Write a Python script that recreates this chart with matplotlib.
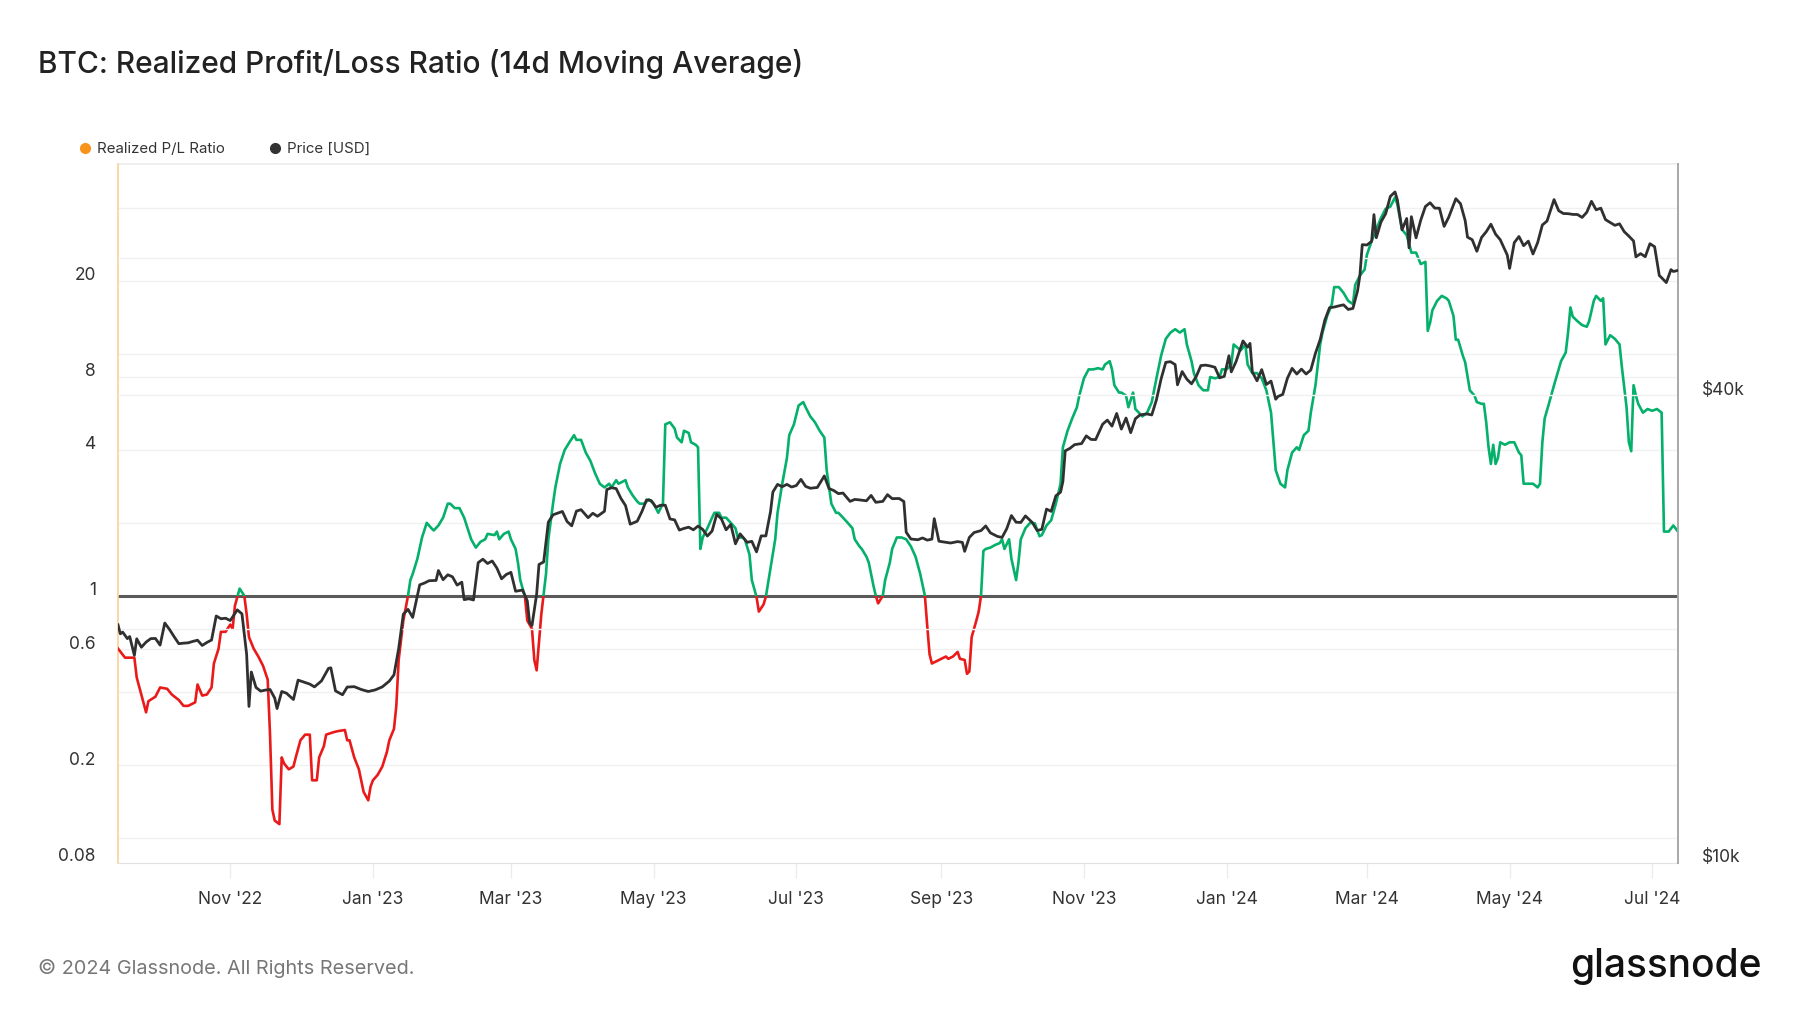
import matplotlib
matplotlib.use('Agg')
import matplotlib.pyplot as plt
import matplotlib.dates as mdates
import pandas as pd
from matplotlib.patches import Rectangle
from matplotlib.lines import Line2D
from matplotlib.transforms import blended_transform_factory, ScaledTranslation

plt.rcParams['font.family'] = ['Inter', 'DejaVu Sans']

# realized P/L ratio, 14d moving average
pl_dates = [
    '2022-09-14', '2022-09-17', '2022-09-21', '2022-09-22', '2022-09-24', '2022-09-26', '2022-09-27',
    '2022-09-30', '2022-10-02', '2022-10-05', '2022-10-07', '2022-10-10', '2022-10-12', '2022-10-14',
    '2022-10-17', '2022-10-18', '2022-10-20', '2022-10-22', '2022-10-24', '2022-10-25', '2022-10-27',
    '2022-10-28', '2022-10-30', '2022-11-01', '2022-11-02', '2022-11-03', '2022-11-05', '2022-11-07',
    '2022-11-08', '2022-11-09', '2022-11-11', '2022-11-13', '2022-11-15', '2022-11-17', '2022-11-18',
    '2022-11-19', '2022-11-20', '2022-11-22', '2022-11-23', '2022-11-24', '2022-11-26', '2022-11-28',
    '2022-11-29', '2022-12-01', '2022-12-03', '2022-12-05', '2022-12-06', '2022-12-08', '2022-12-09',
    '2022-12-11', '2022-12-12', '2022-12-15', '2022-12-17', '2022-12-20', '2022-12-21', '2022-12-22',
    '2022-12-24', '2022-12-26', '2022-12-28', '2022-12-30', '2022-12-31', '2023-01-01', '2023-01-03',
    '2023-01-05', '2023-01-07', '2023-01-08', '2023-01-10', '2023-01-11', '2023-01-12', '2023-01-14',
    '2023-01-16', '2023-01-17', '2023-01-18', '2023-01-20', '2023-01-22', '2023-01-24', '2023-01-26',
    '2023-01-27', '2023-01-29', '2023-01-31', '2023-02-02', '2023-02-03', '2023-02-05', '2023-02-07',
    '2023-02-09', '2023-02-12', '2023-02-14', '2023-02-16', '2023-02-18', '2023-02-19', '2023-02-22',
    '2023-02-23', '2023-02-24', '2023-02-26', '2023-02-28', '2023-03-01', '2023-03-03', '2023-03-04',
    '2023-03-05', '2023-03-07', '2023-03-08', '2023-03-10', '2023-03-11', '2023-03-12', '2023-03-13',
    '2023-03-14', '2023-03-16', '2023-03-17', '2023-03-19', '2023-03-20', '2023-03-22', '2023-03-24',
    '2023-03-26', '2023-03-28', '2023-03-29', '2023-03-31', '2023-04-02', '2023-04-04', '2023-04-06',
    '2023-04-08', '2023-04-10', '2023-04-12', '2023-04-13', '2023-04-15', '2023-04-16', '2023-04-19',
    '2023-04-20', '2023-04-22', '2023-04-24', '2023-04-25', '2023-04-27', '2023-04-29', '2023-05-01',
    '2023-05-03', '2023-05-04', '2023-05-05', '2023-05-06', '2023-05-08', '2023-05-10', '2023-05-11',
    '2023-05-13', '2023-05-14', '2023-05-16', '2023-05-17', '2023-05-19', '2023-05-20', '2023-05-21',
    '2023-05-22', '2023-05-24', '2023-05-26', '2023-05-27', '2023-05-29', '2023-05-30', '2023-06-01',
    '2023-06-03', '2023-06-05', '2023-06-06', '2023-06-08', '2023-06-09', '2023-06-11', '2023-06-12',
    '2023-06-14', '2023-06-15', '2023-06-17', '2023-06-18', '2023-06-20', '2023-06-22', '2023-06-23',
    '2023-06-25', '2023-06-27', '2023-06-28', '2023-06-30', '2023-07-02', '2023-07-04', '2023-07-05',
    '2023-07-07', '2023-07-09', '2023-07-11', '2023-07-13', '2023-07-14', '2023-07-16', '2023-07-18',
    '2023-07-19', '2023-07-21', '2023-07-23', '2023-07-25', '2023-07-26', '2023-07-28', '2023-07-29',
    '2023-07-31', '2023-08-01', '2023-08-03', '2023-08-04', '2023-08-05', '2023-08-07', '2023-08-08',
    '2023-08-10', '2023-08-11', '2023-08-13', '2023-08-15', '2023-08-17', '2023-08-19', '2023-08-21',
    '2023-08-23', '2023-08-25', '2023-08-26', '2023-08-27', '2023-08-28', '2023-08-30', '2023-09-01',
    '2023-09-03', '2023-09-04', '2023-09-06', '2023-09-08', '2023-09-09', '2023-09-11', '2023-09-12',
    '2023-09-13', '2023-09-14', '2023-09-16', '2023-09-17', '2023-09-18', '2023-09-19', '2023-09-20',
    '2023-09-22', '2023-09-24', '2023-09-26', '2023-09-27', '2023-09-28', '2023-09-30', '2023-10-01',
    '2023-10-03', '2023-10-04', '2023-10-05', '2023-10-07', '2023-10-09', '2023-10-11', '2023-10-13',
    '2023-10-14', '2023-10-16', '2023-10-18', '2023-10-20', '2023-10-22', '2023-10-23', '2023-10-25',
    '2023-10-27', '2023-10-29', '2023-10-30', '2023-11-01', '2023-11-03', '2023-11-05', '2023-11-07',
    '2023-11-09', '2023-11-10', '2023-11-12', '2023-11-13', '2023-11-14', '2023-11-16', '2023-11-17',
    '2023-11-19', '2023-11-20', '2023-11-22', '2023-11-23', '2023-11-26', '2023-11-28', '2023-11-30',
    '2023-12-02', '2023-12-04', '2023-12-06', '2023-12-08', '2023-12-10', '2023-12-12', '2023-12-14',
    '2023-12-15', '2023-12-17', '2023-12-18', '2023-12-20', '2023-12-22', '2023-12-24', '2023-12-25',
    '2023-12-27', '2023-12-29', '2023-12-30', '2024-01-01', '2024-01-03', '2024-01-04', '2024-01-05',
    '2024-01-07', '2024-01-09', '2024-01-10', '2024-01-12', '2024-01-14', '2024-01-16', '2024-01-18',
    '2024-01-20', '2024-01-22', '2024-01-24', '2024-01-26', '2024-01-27', '2024-01-29', '2024-01-31',
    '2024-02-01', '2024-02-03', '2024-02-05', '2024-02-06', '2024-02-08', '2024-02-10', '2024-02-11',
    '2024-02-13', '2024-02-15', '2024-02-16', '2024-02-18', '2024-02-20', '2024-02-22', '2024-02-24',
    '2024-02-25', '2024-02-27', '2024-02-29', '2024-03-01', '2024-03-03', '2024-03-05', '2024-03-07',
    '2024-03-09', '2024-03-11', '2024-03-13', '2024-03-14', '2024-03-16', '2024-03-18', '2024-03-20',
    '2024-03-22', '2024-03-24', '2024-03-26', '2024-03-27', '2024-03-28', '2024-03-29', '2024-03-31',
    '2024-04-02', '2024-04-04', '2024-04-05', '2024-04-07', '2024-04-08', '2024-04-09', '2024-04-11',
    '2024-04-12', '2024-04-14', '2024-04-16', '2024-04-17', '2024-04-19', '2024-04-20', '2024-04-21',
    '2024-04-22', '2024-04-23', '2024-04-24', '2024-04-25', '2024-04-26', '2024-04-27', '2024-04-29',
    '2024-05-01', '2024-05-03', '2024-05-05', '2024-05-06', '2024-05-07', '2024-05-09', '2024-05-11',
    '2024-05-13', '2024-05-14', '2024-05-15', '2024-05-16', '2024-05-18', '2024-05-20', '2024-05-22',
    '2024-05-23', '2024-05-25', '2024-05-26', '2024-05-27', '2024-05-28', '2024-05-30', '2024-06-01',
    '2024-06-03', '2024-06-04', '2024-06-06', '2024-06-07', '2024-06-09', '2024-06-10', '2024-06-11',
    '2024-06-13', '2024-06-15', '2024-06-17', '2024-06-18', '2024-06-20', '2024-06-21', '2024-06-22',
    '2024-06-23', '2024-06-24', '2024-06-25', '2024-06-27', '2024-06-29', '2024-07-01', '2024-07-03',
    '2024-07-05', '2024-07-06', '2024-07-08', '2024-07-10', '2024-07-12',
]
pl_ratio = [
    0.605, 0.555, 0.555, 0.46, 0.39, 0.33, 0.367,
    0.383, 0.418, 0.413, 0.391, 0.371, 0.351, 0.351,
    0.363, 0.43, 0.387, 0.391, 0.418, 0.525, 0.605,
    0.71, 0.71, 0.76, 0.73, 0.91, 1.07, 1.0,
    0.84, 0.675, 0.605, 0.561, 0.514, 0.451, 0.267,
    0.131, 0.118, 0.114, 0.215, 0.203, 0.192, 0.197,
    0.215, 0.253, 0.267, 0.267, 0.173, 0.173, 0.215,
    0.239, 0.267, 0.273, 0.276, 0.279, 0.253, 0.253,
    0.215, 0.192, 0.155, 0.143, 0.163, 0.173, 0.182,
    0.197, 0.227, 0.253, 0.282, 0.351, 0.543, 0.79,
    1.0, 1.16, 1.23, 1.42, 1.74, 2.0, 1.9,
    1.86, 1.95, 2.1, 2.4, 2.4, 2.3, 2.3,
    2.1, 1.71, 1.58, 1.67, 1.71, 1.80, 1.78,
    1.84, 1.71, 1.80, 1.84, 1.71, 1.56, 1.37,
    1.16, 0.99, 0.79, 0.73, 0.543, 0.492, 0.64,
    0.84, 1.23, 1.71, 2.4, 2.8, 3.5, 4.0,
    4.3, 4.6, 4.4, 4.4, 3.9, 3.6, 3.2,
    2.9, 2.8, 2.9, 2.8, 3.0, 2.9, 3.0,
    2.8, 2.6, 2.45, 2.4, 2.4, 2.5, 2.4,
    2.2, 2.3, 2.4, 5.1, 5.2, 4.9, 4.5,
    4.3, 4.8, 4.7, 4.3, 4.2, 4.1, 1.56,
    1.74, 1.9, 2.1, 2.2, 2.2, 2.1, 2.1,
    2.0, 1.9, 1.74, 1.74, 1.71, 1.48, 1.16,
    0.99, 0.86, 0.92, 0.99, 1.30, 1.71, 2.2,
    2.9, 3.7, 4.6, 5.1, 6.1, 6.3, 6.0,
    5.5, 5.2, 4.8, 4.5, 3.3, 2.4, 2.2,
    2.2, 2.1, 2.0, 1.9, 1.71, 1.60, 1.56,
    1.45, 1.37, 1.10, 1.0, 0.93, 1.0, 1.16,
    1.37, 1.56, 1.74, 1.74, 1.71, 1.60, 1.45,
    1.23, 1.0, 0.75, 0.573, 0.525, 0.537, 0.549,
    0.561, 0.549, 0.561, 0.586, 0.549, 0.543, 0.476,
    0.487, 0.675, 0.79, 0.86, 1.0, 1.53, 1.56,
    1.58, 1.62, 1.65, 1.71, 1.56, 1.71, 1.42,
    1.16, 1.37, 1.71, 1.9, 2.0, 1.99, 1.76,
    1.78, 1.95, 2.05, 2.4, 2.9, 4.1, 4.8,
    5.4, 6.0, 6.7, 7.9, 8.6, 8.6, 8.7,
    8.6, 9.0, 9.3, 8.6, 7.4, 6.9, 6.9,
    6.7, 6.0, 6.9, 5.9, 5.5, 5.7, 6.3,
    7.9, 9.8, 11.5, 12.2, 12.6, 12.2, 12.6,
    10.9, 9.3, 8.3, 7.4, 7.05, 7.05, 8.0,
    7.9, 8.0, 8.6, 8.6, 9.0, 10.9, 10.7,
    10.3, 10.9, 9.0, 8.3, 8.3, 7.9, 7.05,
    5.7, 3.3, 2.9, 2.8, 3.3, 3.9, 4.1,
    4.0, 4.6, 4.8, 5.7, 7.4, 10.9, 12.2,
    14.3, 16.0, 18.8, 18.8, 17.8, 16.5, 16.0,
    19.2, 21.0, 22.2, 25.6, 29.1, 32.5, 36.3,
    39.6, 40.4, 44.1, 41.3, 32.5, 30.8, 26.1,
    26.1, 23.4, 23.9, 12.4, 13.4, 15.1, 16.5,
    17.3, 16.9, 16.5, 14.3, 11.4, 11.4, 9.8,
    9.2, 7.05, 6.7, 6.3, 6.2, 6.2, 5.2,
    4.1, 3.5, 4.2, 3.5, 3.7, 4.3, 4.2,
    4.3, 4.3, 3.9, 3.8, 2.9, 2.9, 2.9,
    2.8, 2.9, 4.3, 5.4, 6.3, 7.4, 8.6,
    9.3, 10.1, 12.2, 15.5, 14.2, 13.6, 13.1,
    12.9, 13.6, 16.5, 17.3, 16.5, 16.9, 10.9,
    11.9, 11.5, 10.9, 8.8, 6.0, 4.3, 3.95,
    7.4, 6.7, 6.2, 5.7, 5.9, 5.8, 5.9,
    5.7, 1.84, 1.84, 1.95, 1.84,
]

# BTC price in USD
price_dates = [
    '2022-09-14', '2022-09-15', '2022-09-16', '2022-09-18', '2022-09-19', '2022-09-21', '2022-09-22',
    '2022-09-24', '2022-09-26', '2022-09-28', '2022-09-30', '2022-10-02', '2022-10-04', '2022-10-06',
    '2022-10-08', '2022-10-10', '2022-10-12', '2022-10-14', '2022-10-16', '2022-10-18', '2022-10-20',
    '2022-10-22', '2022-10-24', '2022-10-26', '2022-10-28', '2022-10-30', '2022-11-01', '2022-11-04',
    '2022-11-06', '2022-11-08', '2022-11-09', '2022-11-10', '2022-11-12', '2022-11-14', '2022-11-16',
    '2022-11-18', '2022-11-20', '2022-11-21', '2022-11-23', '2022-11-25', '2022-11-28', '2022-11-30',
    '2022-12-02', '2022-12-05', '2022-12-07', '2022-12-10', '2022-12-13', '2022-12-14', '2022-12-16',
    '2022-12-19', '2022-12-21', '2022-12-24', '2022-12-27', '2022-12-30', '2023-01-02', '2023-01-05',
    '2023-01-08', '2023-01-10', '2023-01-12', '2023-01-14', '2023-01-16', '2023-01-18', '2023-01-21',
    '2023-01-23', '2023-01-25', '2023-01-28', '2023-01-29', '2023-01-31', '2023-02-02', '2023-02-04',
    '2023-02-06', '2023-02-08', '2023-02-09', '2023-02-11', '2023-02-13', '2023-02-15', '2023-02-17',
    '2023-02-19', '2023-02-21', '2023-02-23', '2023-02-25', '2023-02-27', '2023-03-01', '2023-03-03',
    '2023-03-06', '2023-03-08', '2023-03-09', '2023-03-10', '2023-03-12', '2023-03-13', '2023-03-15',
    '2023-03-17', '2023-03-19', '2023-03-21', '2023-03-23', '2023-03-25', '2023-03-27', '2023-03-29',
    '2023-03-31', '2023-04-03', '2023-04-05', '2023-04-07', '2023-04-10', '2023-04-11', '2023-04-13',
    '2023-04-15', '2023-04-17', '2023-04-19', '2023-04-21', '2023-04-24', '2023-04-26', '2023-04-28',
    '2023-04-30', '2023-05-02', '2023-05-04', '2023-05-06', '2023-05-08', '2023-05-10', '2023-05-12',
    '2023-05-14', '2023-05-16', '2023-05-18', '2023-05-20', '2023-05-22', '2023-05-24', '2023-05-26',
    '2023-05-28', '2023-05-30', '2023-06-01', '2023-06-03', '2023-06-05', '2023-06-07', '2023-06-10',
    '2023-06-12', '2023-06-14', '2023-06-16', '2023-06-18', '2023-06-20', '2023-06-21', '2023-06-23',
    '2023-06-25', '2023-06-27', '2023-06-29', '2023-07-01', '2023-07-03', '2023-07-05', '2023-07-07',
    '2023-07-10', '2023-07-13', '2023-07-15', '2023-07-17', '2023-07-19', '2023-07-21', '2023-07-24',
    '2023-07-26', '2023-07-28', '2023-07-31', '2023-08-02', '2023-08-04', '2023-08-07', '2023-08-09',
    '2023-08-11', '2023-08-14', '2023-08-16', '2023-08-17', '2023-08-19', '2023-08-22', '2023-08-24',
    '2023-08-26', '2023-08-28', '2023-08-29', '2023-08-31', '2023-09-02', '2023-09-05', '2023-09-08',
    '2023-09-10', '2023-09-11', '2023-09-13', '2023-09-15', '2023-09-18', '2023-09-20', '2023-09-22',
    '2023-09-25', '2023-09-27', '2023-09-29', '2023-10-01', '2023-10-03', '2023-10-05', '2023-10-07',
    '2023-10-10', '2023-10-12', '2023-10-14', '2023-10-16', '2023-10-18', '2023-10-20', '2023-10-22',
    '2023-10-23', '2023-10-24', '2023-10-26', '2023-10-28', '2023-10-31', '2023-11-02', '2023-11-04',
    '2023-11-06', '2023-11-09', '2023-11-11', '2023-11-13', '2023-11-15', '2023-11-17', '2023-11-19',
    '2023-11-21', '2023-11-23', '2023-11-25', '2023-11-28', '2023-11-30', '2023-12-02', '2023-12-04',
    '2023-12-06', '2023-12-08', '2023-12-10', '2023-12-11', '2023-12-13', '2023-12-15', '2023-12-17',
    '2023-12-19', '2023-12-21', '2023-12-23', '2023-12-25', '2023-12-27', '2023-12-29', '2023-12-31',
    '2024-01-02', '2024-01-03', '2024-01-05', '2024-01-08', '2024-01-10', '2024-01-11', '2024-01-12',
    '2024-01-14', '2024-01-16', '2024-01-18', '2024-01-20', '2024-01-22', '2024-01-23', '2024-01-25',
    '2024-01-27', '2024-01-29', '2024-01-31', '2024-02-02', '2024-02-04', '2024-02-06', '2024-02-08',
    '2024-02-10', '2024-02-12', '2024-02-14', '2024-02-16', '2024-02-18', '2024-02-20', '2024-02-22',
    '2024-02-24', '2024-02-26', '2024-02-27', '2024-02-28', '2024-03-01', '2024-03-03', '2024-03-04',
    '2024-03-05', '2024-03-07', '2024-03-09', '2024-03-11', '2024-03-13', '2024-03-14', '2024-03-16',
    '2024-03-18', '2024-03-19', '2024-03-20', '2024-03-22', '2024-03-24', '2024-03-26', '2024-03-28',
    '2024-03-30', '2024-04-01', '2024-04-03', '2024-04-05', '2024-04-08', '2024-04-10', '2024-04-12',
    '2024-04-13', '2024-04-15', '2024-04-17', '2024-04-19', '2024-04-21', '2024-04-23', '2024-04-25',
    '2024-04-27', '2024-04-30', '2024-05-01', '2024-05-03', '2024-05-05', '2024-05-07', '2024-05-09',
    '2024-05-11', '2024-05-13', '2024-05-15', '2024-05-17', '2024-05-20', '2024-05-22', '2024-05-24',
    '2024-05-26', '2024-05-28', '2024-05-30', '2024-06-01', '2024-06-03', '2024-06-05', '2024-06-07',
    '2024-06-09', '2024-06-11', '2024-06-13', '2024-06-15', '2024-06-17', '2024-06-19', '2024-06-21',
    '2024-06-23', '2024-06-24', '2024-06-26', '2024-06-28', '2024-06-30', '2024-07-02', '2024-07-04',
    '2024-07-05', '2024-07-07', '2024-07-09', '2024-07-10', '2024-07-12',
]
price_usd = [
    20230, 19700, 19800, 19420, 19540, 18480, 19410,
    18930, 19220, 19420, 19430, 19050, 20340, 19960,
    19530, 19130, 19160, 19180, 19260, 19330, 19030,
    19200, 19340, 20770, 20600, 20630, 20490, 21150,
    20900, 18540, 15880, 17590, 16800, 16620, 16670,
    16700, 16280, 15780, 16600, 16520, 16210, 17170,
    17090, 16970, 16830, 17130, 17780, 17810, 16630,
    16440, 16820, 16840, 16700, 16600, 16680, 16830,
    17120, 17440, 18850, 20880, 21180, 20680, 22780,
    22900, 23060, 23080, 23770, 23130, 23470, 23330,
    22760, 22960, 21800, 21860, 21780, 24330, 24580,
    24270, 24450, 23940, 23190, 23490, 23640, 22350,
    22430, 21720, 20360, 20190, 22160, 24200, 24380,
    27440, 28040, 28180, 28320, 27490, 27140, 28350,
    28470, 27800, 28170, 27920, 28340, 30220, 30390,
    30310, 29450, 28820, 27270, 27510, 28310, 29320,
    29250, 28680, 28850, 28850, 27700, 27620, 26800,
    26930, 27030, 26820, 27120, 26850, 26330, 26720,
    28080, 27700, 26820, 27250, 25730, 26500, 25840,
    25920, 25120, 26340, 26340, 28310, 30000, 30690,
    30480, 30690, 30450, 30580, 31150, 30510, 30340,
    30410, 31470, 30310, 30140, 29860, 29910, 29180,
    29350, 29310, 29230, 29700, 29100, 29180, 29770,
    29420, 29430, 29170, 26630, 26100, 26040, 26180,
    26010, 26090, 27720, 25930, 25870, 25790, 25900,
    25840, 25160, 26220, 26600, 26760, 27130, 26580,
    26300, 26220, 26910, 27980, 27430, 27410, 27950,
    27390, 26760, 26860, 28520, 28330, 29670, 29990,
    30960, 33900, 34150, 34530, 34640, 35440, 35070,
    35050, 36690, 37140, 36480, 37880, 36160, 37370,
    35780, 37290, 37720, 37820, 37710, 39450, 41980,
    44080, 44170, 43790, 41240, 42890, 41930, 41360,
    42260, 43660, 43720, 43610, 43440, 42100, 42280,
    44950, 42850, 44150, 46970, 46110, 46630, 42850,
    41730, 43140, 41280, 41690, 39510, 39840, 40080,
    42050, 43300, 42580, 43200, 42580, 43090, 45300,
    47150, 49960, 51840, 51940, 52120, 52280, 51570,
    51730, 54520, 57080, 62500, 62440, 63110, 68330,
    63800, 66850, 68500, 72120, 73080, 71400, 65320,
    67550, 61910, 67910, 63780, 67210, 69990, 70780,
    69660, 69640, 65980, 67840, 71630, 70580, 67140,
    63910, 63430, 61280, 63840, 64940, 66410, 64480,
    63420, 60610, 58250, 62880, 64030, 62310, 63160,
    60790, 62900, 66260, 67040, 71450, 69120, 68550,
    68520, 68370, 68350, 67760, 68810, 71080, 69310,
    69650, 67320, 66750, 66190, 66490, 64960, 64100,
    63180, 60280, 60860, 60310, 62680, 62110, 57040,
    56660, 55850, 58040, 57720, 57900,
]

# axis ticks and grid
ratio_ticks = [20, 8, 4, 1, 0.6, 0.2, 0.08]
ratio_tick_labels = ['20', '8', '4', '1', '0.6', '0.2', '0.08']
ratio_grid = [40, 20, 10, 8, 4, 2, 0.6, 0.4, 0.2, 0.1]
price_ticks = [10000, 40000]
price_tick_labels = ['$10k', '$40k']
price_grid = [20000, 40000, 60000]

GREEN = '#05b06b'
RED = '#ea1a1a'
BLACK = '#303030'

pl_x = pd.to_datetime(pl_dates)
price_x = pd.to_datetime(price_dates)

fig = plt.figure(figsize=(18, 10.13), dpi=100)
ax = fig.add_axes([118 / 1800, 1 - 863 / 1013, 1560 / 1800, 699 / 1013])
ax2 = ax.twinx()

ax.set_yscale('log')
ax.set_ylim(0.0788, 60.6)
ax2.set_yscale('log')
ax2.set_ylim(9980, 79400)
ax.set_xlim(pd.Timestamp('2022-09-14'), pd.Timestamp('2024-07-12'))

for g in ratio_grid:
    ax.axhline(g, color='#f0f0f0', lw=1.0, zorder=0)
for g in price_grid:
    ax2.axhline(g, color='#f0f0f0', lw=1.0, zorder=0)
ax.axhline(1, color='#5a5a5a', lw=2.2, zorder=2)

# ratio line: green above 1, red below 1
yclip = blended_transform_factory(ax.transAxes, ax.transData)
hi = Rectangle((0, 1), 1, 1e4, transform=yclip, visible=False)
lo = Rectangle((0, 1e-4), 1, 1 - 1e-4, transform=yclip, visible=False)
ax.add_patch(hi)
ax.add_patch(lo)
l_hi, = ax.plot(pl_x, pl_ratio, color=GREEN, lw=1.9, zorder=3, solid_joinstyle='round')
l_lo, = ax.plot(pl_x, pl_ratio, color=RED, lw=1.9, zorder=3, solid_joinstyle='round')
l_hi.set_clip_path(hi)
l_lo.set_clip_path(lo)

ax2.plot(price_x, price_usd, color=BLACK, lw=2.0, zorder=3, solid_joinstyle='round')

# ticks
ax.xaxis.set_major_locator(mdates.MonthLocator(bymonth=[1, 3, 5, 7, 9, 11]))
ax.xaxis.set_major_formatter(mdates.DateFormatter("%b '%y"))
ax.tick_params(axis='x', length=11, width=1, color='#ececec', pad=9,
               labelsize=12.5, labelcolor='#333333')
ax.set_yticks(ratio_ticks)
ax.set_yticklabels(ratio_tick_labels)
ax.yaxis.set_minor_locator(matplotlib.ticker.NullLocator())
ax.tick_params(axis='y', length=0, pad=16, labelsize=12.5, labelcolor='#333333')
ax2.set_yticks(price_ticks)
ax2.set_yticklabels(price_tick_labels)
ax2.yaxis.set_minor_locator(matplotlib.ticker.NullLocator())
ax2.tick_params(axis='y', length=0, pad=17, labelsize=12.5, labelcolor='#333333')

up = ScaledTranslation(0, 7 / 100, fig.dpi_scale_trans)
for lbl in ax.get_yticklabels() + ax2.get_yticklabels():
    lbl.set_transform(lbl.get_transform() + up)

# frame
for s in ['top', 'right']:
    ax.spines[s].set_visible(False)
for s in ['left', 'top', 'bottom']:
    ax2.spines[s].set_visible(False)
ax.spines['left'].set_color('#fbcf9c')
ax.spines['left'].set_linewidth(1.2)
ax.spines['bottom'].set_color('#e2e2e2')
ax2.spines['right'].set_color('#a8a8a8')
ax2.spines['right'].set_linewidth(1.4)
ax.plot([0, 1], [1, 1], transform=ax.transAxes, color='#ececec', lw=1.2, clip_on=False)

# title, legend, footer
fig.text(38 / 1800, 1 - 64 / 1013, 'BTC: Realized Profit/Loss Ratio (14d Moving Average)',
         fontsize=21.5, color='#222222', va='center', ha='left', fontweight='medium')

handles = [
    Line2D([], [], ls='none', marker='o', markersize=7, color='#f7931a'),
    Line2D([], [], ls='none', marker='o', markersize=7, color='#333333'),
]
fig.legend(handles, ['Realized P/L Ratio', 'Price [USD]'], loc='center left',
           bbox_to_anchor=(79 / 1800, 1 - 149 / 1013), ncol=2, frameon=False,
           fontsize=10.8, handlelength=0.8, handletextpad=0.4, columnspacing=2.95,
           labelcolor='#333333', borderaxespad=0, borderpad=0)

fig.text(38 / 1800, 1 - 968 / 1013, '\u00a9 2024 Glassnode. All Rights Reserved.',
         fontsize=14.3, color='#777777', va='center', ha='left')
fig.text(1762 / 1800, 1 - 966 / 1013, 'glassnode', fontsize=28, color='#111111',
         va='center', ha='right', fontweight='medium')

fig.savefig('out.png', dpi=100)
